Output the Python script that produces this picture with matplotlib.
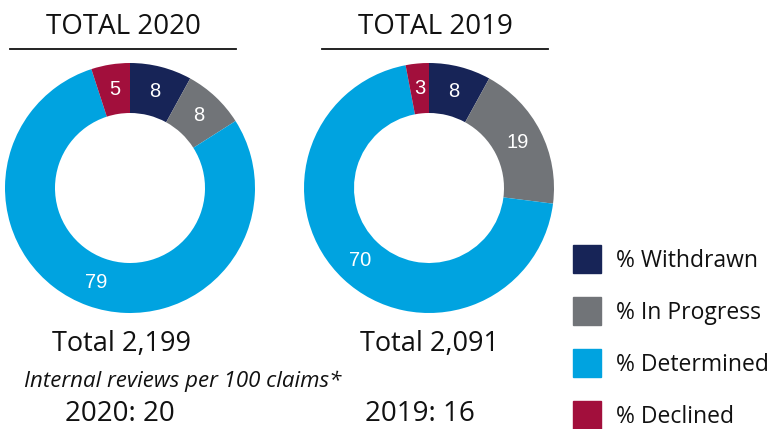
import matplotlib
matplotlib.use("Agg")
import matplotlib.pyplot as plt
from matplotlib.patches import Rectangle
from matplotlib.lines import Line2D

# data
categories = ["% Withdrawn", "% In Progress", "% Determined", "% Declined"]
colors = ["#172457", "#717478", "#00a3e0", "#a20f3c"]
values_2020 = [8, 8, 79, 5]
values_2019 = [8, 19, 70, 3]
years = ["2020", "2019"]
totals = ["2,199", "2,091"]
reviews_per_100 = [20, 16]

W, H = 772, 429
fig = plt.figure(figsize=(W / 100, H / 100), dpi=100)
plt.rcParams['font.family'] = ['Open Sans', 'DejaVu Sans']


def fx(x):
    return x / W


def fy(y):
    return 1 - y / H


def donut(cx, cy, r, vals):
    ax = fig.add_axes([fx(cx - r), fy(cy + r), 2 * r / W, 2 * r / H])
    ax.pie(vals, colors=colors, startangle=90, counterclock=False,
           radius=1, labels=[str(v) for v in vals], labeldistance=0.8,
           wedgeprops=dict(width=0.4, linewidth=0),
           textprops=dict(color="white", fontsize=14.5, ha="center", va="center",
                          family="Liberation Sans"))
    ax.set_xlim(-1, 1)
    ax.set_ylim(-1, 1)
    ax.set_aspect("equal")
    ax.axis("off")


donut(130, 188, 125, values_2020)
donut(429, 188, 125, values_2019)

# titles with underline
for cx, x0, x1, yr in [(123, 10, 236, years[0]), (435, 322, 548, years[1])]:
    fig.text(fx(cx), fy(27), f"TOTAL {yr}", ha="center", va="center",
             fontsize=20, color="#111111")
    fig.add_artist(Line2D([fx(x0), fx(x1)], [fy(49), fy(49)], color="#111111", lw=1.3))

# totals under donuts
fig.text(fx(122), fy(344), f"Total {totals[0]}", ha="center", va="center", fontsize=19.5, color="#111111")
fig.text(fx(430), fy(344), f"Total {totals[1]}", ha="center", va="center", fontsize=19.5, color="#111111")
fig.text(fx(183), fy(381), "Internal reviews per 100 claims*", ha="center", va="center",
         fontsize=16, style="italic", color="#111111")
fig.text(fx(120), fy(414), f"{years[0]}: {reviews_per_100[0]}", ha="center", va="center", fontsize=20, color="#111111")
fig.text(fx(420), fy(414), f"{years[1]}: {reviews_per_100[1]}", ha="center", va="center", fontsize=20, color="#111111")

# legend
for i, (lab, col) in enumerate(zip(categories, colors)):
    top = 245 + 52 * i
    fig.add_artist(Rectangle((fx(573), fy(top + 28)), 28 / W, 28 / H, color=col,
                             transform=fig.transFigure))
    fig.text(fx(616), fy(top + 16), lab, ha="left", va="center", fontsize=16.5, color="#111111")

fig.savefig("out.png", dpi=100)
